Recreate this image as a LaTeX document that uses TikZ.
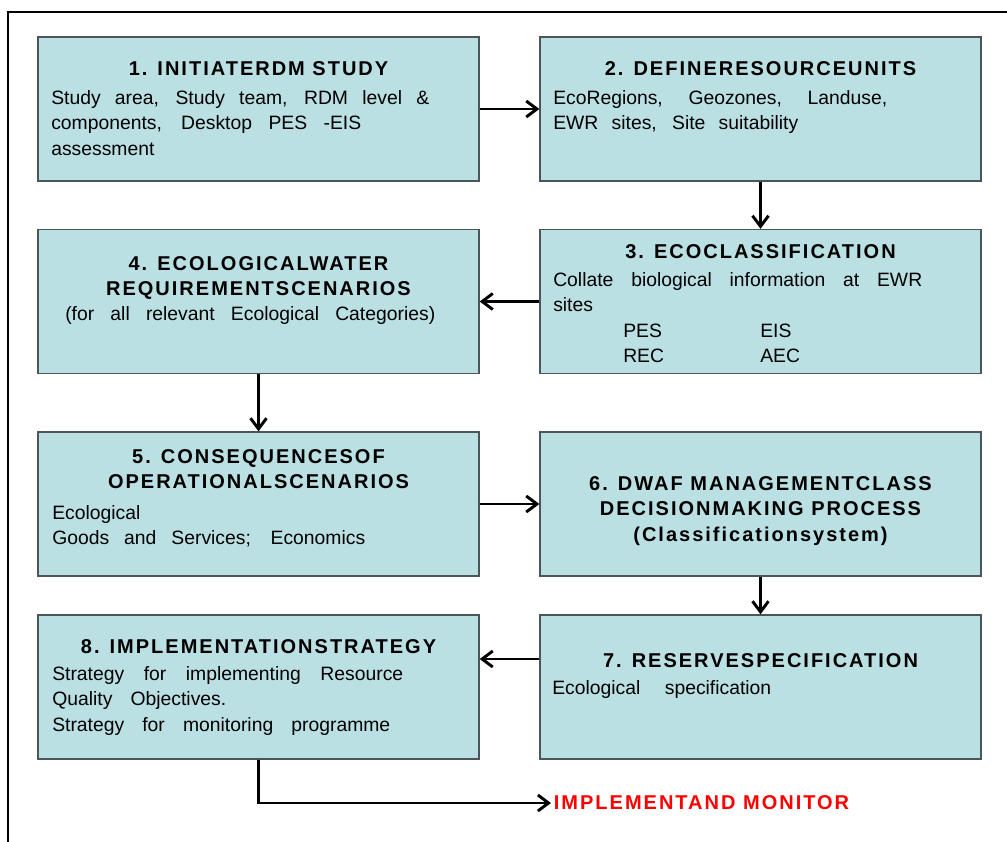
\documentclass[tikz,border=0pt]{standalone}
\usepackage{fontspec}
\setmainfont{Liberation Sans}
\usetikzlibrary{arrows.meta}
\newlength\pxu
\setlength\pxu{0.75pt}
\newcommand{\spreadto}[2]{\makebox[#1\pxu][s]{#2}}
\definecolor{boxfill}{HTML}{BAE0E3}
\definecolor{boxline}{HTML}{4D5656}
\definecolor{implred}{HTML}{FF0000}
\begin{document}
\begin{tikzpicture}[x=0.75pt, y=-0.75pt,
	stage/.style={rectangle, fill=boxfill, draw=boxline, line width=1pt, minimum width=441\pxu, minimum height=144\pxu, inner sep=0pt},
	title/.style={inner sep=0pt, font=\fontsize{15}{19.1}\selectfont\bfseries\addfontfeature{LetterSpace=10}, align=center},
	body/.style={inner sep=0pt, font=\fontsize{14.5}{19.1}\selectfont, align=left},
	flow/.style={-{Straight Barb[length=8pt, width=12pt]}, line width=2.2pt}]
		\useasboundingbox (0,0) rectangle (1007,842);
		\draw[line width=1.5pt] (8,842) -- (8,12) -- (1007,12);

		\node[stage](b1) at (258.5,109){};
		\node[stage](b2) at (760.5,109){};
		\node[stage](b3) at (760.5,301.5){};
		\node[stage](b4) at (258.5,301.5){};
		\node[stage](b5) at (258.5,504){};
		\node[stage](b6) at (760.5,504){};
		\node[stage](b7) at (760.5,687){};
		\node[stage](b8) at (258.5,687){};

		\node[title, anchor=base](t1) at (258.5,76){1. INITIATERDM STUDY};
		\node[title, anchor=base](t2) at (760.5,76){2. DEFINERESOURCEUNITS};
		\node[title, anchor=base](t3) at (760.5,258){3. ECOCLASSIFICATION};
		\node[title, anchor=north](t4) at (258.5,252.2){\strut 4. ECOLOGICALWATER\\REQUIREMENTSCENARIOS};
		\node[title, anchor=north](t5) at (258.5,445.2){\strut 5. CONSEQUENCESOF\\OPERATIONALSCENARIOS};
		\node[title, anchor=north](t6) at (760.5,472.2){\strut 6. DWAF MANAGEMENTCLASS\\DECISIONMAKING PROCESS\\(Classificationsystem)};
		\node[title, anchor=base](t7) at (760.5,667){7. RESERVESPECIFICATION};
		\node[title, anchor=base](t8) at (258.5,653){8. IMPLEMENTATIONSTRATEGY};

		\node[body, anchor=north west](d1) at (51,86.2){\strut\spreadto{378}{Study area, Study team, RDM level \&}\\\spreadto{310}{components, Desktop PES -EIS}\\assessment};
		\node[body, anchor=north west](d2) at (553,86.2){\strut\spreadto{334}{EcoRegions, Geozones, Landuse,}\\\spreadto{245}{EWR sites, Site suitability}};
		\node[body, anchor=north west](d3) at (553,268.2){\strut\spreadto{369}{Collate biological information at EWR}\\sites\\\hspace*{70\pxu}\makebox[137\pxu][l]{PES}EIS\\\hspace*{70\pxu}\makebox[137\pxu][l]{REC}AEC};
		\node[body, anchor=base west](d4) at (65,320){\spreadto{370}{(for all relevant Ecological Categories)}};
		\node[body, anchor=north west](d5) at (52,501.2){\strut Ecological\\\spreadto{313}{Goods and Services; Economics}};
		\node[body, anchor=base west](d7) at (552,694){\spreadto{219}{Ecological specification}};
		\node[body, anchor=north west](d8) at (52,662.2){\strut\spreadto{351}{Strategy for implementing Resource}\\\spreadto{174}{Quality Objectives.}\\\spreadto{338}{Strategy for monitoring programme}};

		\node[title, text=implred, anchor=west, inner sep=2pt](impl) at (551,803){IMPLEMENTAND MONITOR};

		\draw[flow] (b1) -- (b2);
		\draw[flow] (b2) -- (b3);
		\draw[flow] (b3) -- (b4);
		\draw[flow] (b4) -- (b5);
		\draw[flow] (b5) -- (b6);
		\draw[flow] (b6) -- (b7);
		\draw[flow] ([yshift=28\pxu]b7.west) -- ([yshift=28\pxu]b8.east);
		\draw[flow] (b8.south) |- (impl.west);
	\end{tikzpicture}
\end{document}
